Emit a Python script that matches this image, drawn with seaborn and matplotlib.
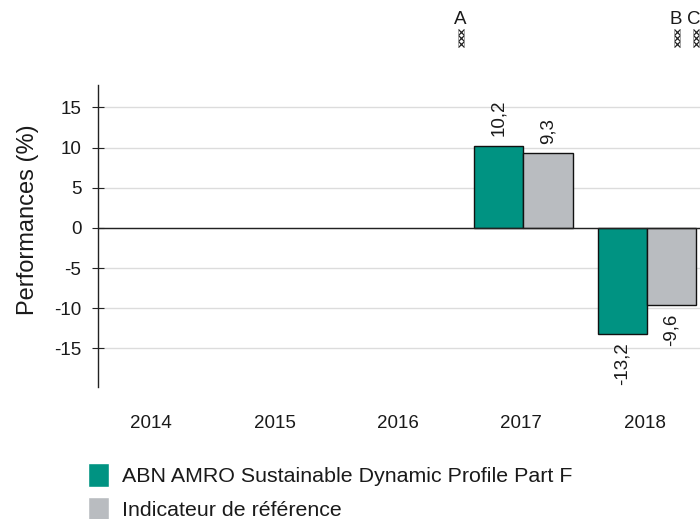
import numpy as np
import pandas as pd
import matplotlib.pyplot as plt
import seaborn as sns
from matplotlib.lines import Line2D
from matplotlib.patches import Patch
from matplotlib.transforms import ScaledTranslation

years = ["2014", "2015", "2016", "2017", "2018"]
fund_name = "ABN AMRO Sustainable Dynamic Profile Part F"
index_name = "Indicateur de référence"
fund_values = [np.nan, np.nan, np.nan, 10.2, -13.2]
index_values = [np.nan, np.nan, np.nan, 9.3, -9.6]
y_ticks = [-15, -10, -5, 0, 5, 10, 15]
period_letters = ["A", "B", "C"]

df = pd.DataFrame({
    "year": years * 2,
    "serie": [fund_name] * 5 + [index_name] * 5,
    "perf": fund_values + index_values,
})

sns.set_style("white")
plt.rcParams["font.family"] = ["Liberation Sans", "DejaVu Sans"]
plt.rcParams["axes.unicode_minus"] = False

TEAL = "#009382"
GREY = "#b9bcc0"
INK = "#1a1a1a"

fig = plt.figure(figsize=(7, 5.19), dpi=100)
ax = fig.add_axes([98 / 700, 1 - 387 / 519, 602 / 700, 302 / 519])

sns.barplot(
    data=df,
    x="year",
    y="perf",
    hue="serie",
    order=years,
    hue_order=[fund_name, index_name],
    palette=[TEAL, GREY],
    saturation=1,
    edgecolor="#111111",
    linewidth=1,
    width=0.8,
    gap=0,
    legend=False,
    ax=ax,
)

# value labels, comma decimals like the source
for container, values in zip(ax.containers, [fund_values, index_values]):
    shown = [v for v in values if not np.isnan(v)]
    bars = [b for b in container if not np.isnan(b.get_height())]
    for bar, v in zip(bars, shown):
        ax.annotate(
            f"{v:.1f}".replace(".", ","),
            (bar.get_x() + bar.get_width() / 2, v),
            xytext=(0, 7 if v > 0 else -6),
            textcoords="offset points",
            rotation=90,
            ha="center",
            va="bottom" if v > 0 else "top",
            fontsize=13.5,
            color=INK,
        )

ax.set_xlim(-0.445, 4.43)
ax.set_ylim(-19.8, 17.8)
ax.set_yticks(y_ticks)
ax.set_yticklabels([str(t) for t in y_ticks], fontsize=13.5, color=INK)
ax.tick_params(axis="y", direction="inout", length=8, width=0.8, color="#222222", pad=8, left=True)
ax.tick_params(axis="x", length=0, pad=20, labelsize=13.5, labelcolor=INK)
for label in ax.get_xticklabels():
    label.set_transform(label.get_transform() + ScaledTranslation(-2 / 100, 0, fig.dpi_scale_trans))
ax.set_xlabel("")
ax.set_ylabel("Performances (%)", fontsize=17, color=INK, va="center")
ax.yaxis.set_label_coords((28 - 98) / 602, (387 - 220) / 302)

ax.grid(axis="y", color="#dcdcdc", linewidth=1)
ax.set_axisbelow(True)
ax.axhline(0, color="#222222", linewidth=1, zorder=5)
sns.despine(ax=ax, top=True, right=True, bottom=True)
ax.spines["left"].set_color("#222222")
ax.spines["left"].set_linewidth(1)

# period markers above the plot
for letter, x_px, text_px in zip(period_letters, [461, 676.5, 695.5], [460, 676, 693.7]):
    fig.text(text_px / 700, 1 - 20 / 519, letter, ha="center", va="center", fontsize=13.5, color=INK)
    for y_px in [32, 38, 44]:
        fig.add_artist(Line2D(
            [x_px / 700], [1 - y_px / 519], transform=fig.transFigure,
            marker="x", markersize=4.2, markeredgewidth=0.9, color="#222222", linestyle="none",
        ))
    for side in [-3, 3]:
        fig.add_artist(Line2D(
            [(x_px + side) / 700] * 2, [1 - 29 / 519, 1 - 47 / 519], transform=fig.transFigure,
            color="#999999", linewidth=0.6,
        ))

ax.legend(
    handles=[Patch(facecolor=TEAL, label=fund_name), Patch(facecolor=GREY, label=index_name)],
    loc="upper left",
    bbox_to_anchor=(88 / 700, 1 - 463 / 519),
    bbox_transform=fig.transFigure,
    frameon=False,
    fontsize=15.4,
    handlelength=1.0,
    handleheight=1.32,
    handletextpad=0.6,
    labelspacing=0.47,
    borderaxespad=0,
    borderpad=0,
    labelcolor=INK,
)

plt.savefig("out.png", dpi=100)
